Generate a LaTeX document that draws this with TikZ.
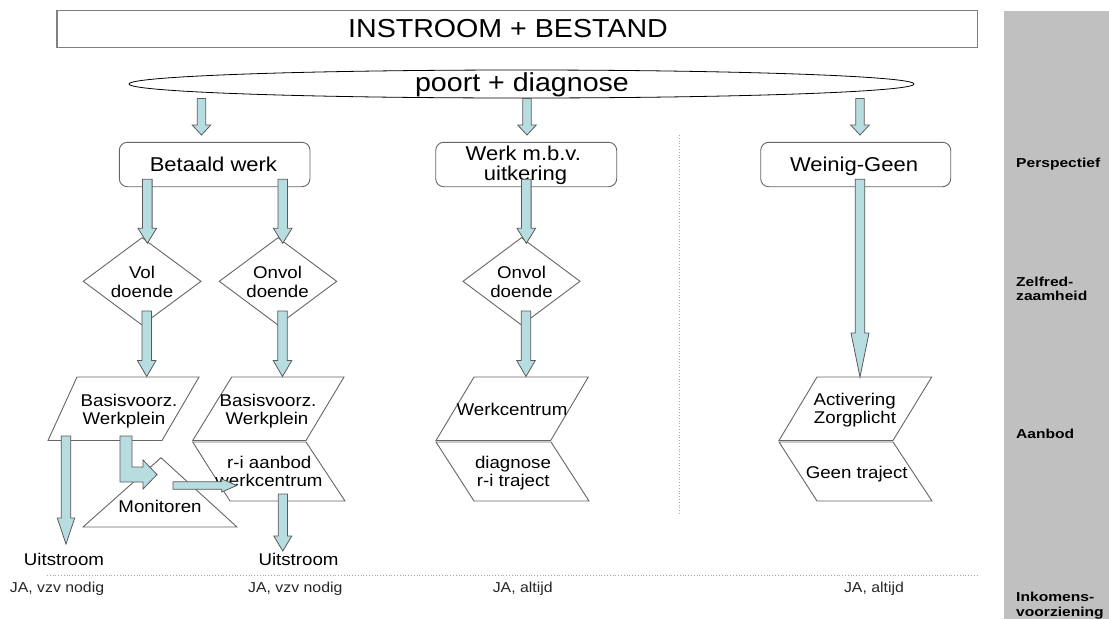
\documentclass[tikz,border=0pt]{standalone}
\usepackage{fontspec}
\setmainfont{Liberation Sans}[FakeStretch=1.1]
\newfontfamily\bandfont{Liberation Sans}[FakeStretch=1.2]
\usetikzlibrary{calc}
\definecolor{arrowfill}{HTML}{B7DDE0}
\definecolor{arrowline}{HTML}{5A5A5A}
\definecolor{bandfill}{HTML}{C0C0C0}
\definecolor{linegray}{HTML}{666666}
\tikzset{
  big/.style={font=\fontsize{26}{30}\selectfont, inner sep=0pt, anchor=base},
  boxtxt/.style={font=\fontsize{20}{24}\selectfont, inner sep=0pt, anchor=base},
  mid/.style={font=\fontsize{17}{20}\selectfont, inner sep=0pt, anchor=base},
  small/.style={font=\fontsize{14.4}{17}\selectfont, inner sep=0pt, anchor=base, text=black!85},
  bandtxt/.style={font=\bandfont\bfseries\fontsize{13}{15}\selectfont, inner sep=0pt, anchor=base west},
  shapeline/.style={draw=linegray, line width=0.9pt, fill=white},
  blockarrow/.style={draw=arrowline, fill=arrowfill, line width=0.8pt, line join=miter},
  sepline/.style={draw=gray!70, dotted, line width=0.8pt}
}
% #1 start, #2 tip, #3 shaft half width, #4 head half width, #5 head length
\newcommand{\blockarr}[5]{%
  \path ($(#2)!#5!(#1)$) coordinate (bah);
  \draw[blockarrow] ($(#1)!#3!90:(#2)$) -- ($(bah)!#3!90:(#2)$) -- ($(bah)!#4!90:(#2)$) -- (#2)
    -- ($(bah)!#4!-90:(#2)$) -- ($(bah)!#3!-90:(#2)$) -- ($(#1)!#3!-90:(#2)$) -- cycle;}
\begin{document}
\begin{tikzpicture}[x=1pt,y=-1pt]
\useasboundingbox (0,0) rectangle (1109,619);
% side band
\fill[bandfill] (1004,11) rectangle (1109,619);
% title box
\draw[line width=1.2pt, draw=gray] (57,10.7) rectangle (977.5,47.3);
\node[big] (title) at (508,37.3) {INSTROOM + BESTAND};
% ellipse
\draw[line width=0.8pt, fill=white] (521.5,84) ellipse [x radius=392.5, y radius=14];
\node[big] (poort) at (522,91.7) {poort + diagnose};
% separators
\draw[sepline] (679.5,135) -- (679.5,515);
\draw[sepline] (47,575) -- (978,575);
% perspective boxes
\draw[shapeline, rounded corners=8pt] (119.3,142.3) rectangle (310,186.7);
\draw[shapeline, rounded corners=8pt] (435.7,142.3) rectangle (616.7,186.7);
\draw[shapeline, rounded corners=8pt] (760.7,142.3) rectangle (950.7,186.7);
\node[boxtxt] (betaald) at (213.4,171) {Betaald werk};
\node[boxtxt] (werk1) at (523.3,160) {Werk m.b.v.};
\node[boxtxt] (werk2) at (525.5,180.5) {uitkering};
\node[boxtxt] (weinig) at (854,171) {Weinig-Geen};
% diamonds
\draw[shapeline] (142,237.7) -- (201,281.3) -- (142,325) -- (83.3,281.3) -- cycle;
\draw[shapeline] (278,237.7) -- (336.7,281.3) -- (278,325) -- (219.3,281.3) -- cycle;
\draw[shapeline] (521.5,237.7) -- (580,281.3) -- (521.5,325) -- (463,281.3) -- cycle;
\node[mid] (vol1) at (142,278.7) {Vol};
\node[mid] (vol2) at (142,297) {doende};
\node[mid] (onvolA1) at (277.6,278.7) {Onvol};
\node[mid] (onvolA2) at (277.6,297) {doende};
\node[mid] (onvolB1) at (521.5,278.7) {Onvol};
\node[mid] (onvolB2) at (521.5,297) {doende};
% offer shapes
\draw[shapeline] (77,377) -- (199,377) -- (162,440.5) -- (48,440.5) -- cycle;
\draw[shapeline] (231.7,377) -- (344,377) -- (306,440.5) -- (192.7,440.5) -- cycle;
\draw[shapeline] (192.7,442) -- (306,442) -- (345,501) -- (230,501) -- cycle;
\draw[shapeline] (474,377) -- (588.3,377) -- (550.7,440.5) -- (436,440.5) -- cycle;
\draw[shapeline] (436,442) -- (551,442) -- (589,501) -- (474,501) -- cycle;
\draw[shapeline] (817,377) -- (931.7,377) -- (893,440.5) -- (779,440.5) -- cycle;
\draw[shapeline] (779,442) -- (893,442) -- (932,501) -- (817,501) -- cycle;
\draw[shapeline] (161,457.7) -- (237,527) -- (83,527) -- cycle;
\node[mid] (basisL1) at (129,406) {Basisvoorz.};
\node[mid] (basisL2) at (124,424) {Werkplein};
\node[mid] (basisR1) at (268,406) {Basisvoorz.};
\node[mid] (basisR2) at (267,424) {Werkplein};
\node[mid] (ri1) at (269.3,468.3) {r-i aanbod};
\node[mid] (ri2) at (269,486.7) {werkcentrum};
\node[mid] (monitor) at (160,512.7) {Monitoren};
\node[mid] (wc) at (512,415) {Werkcentrum};
\node[mid] (diag1) at (513,468.3) {diagnose};
\node[mid] (diag2) at (513.3,486.7) {r-i traject};
\node[mid] (act1) at (854.7,405.7) {Activering};
\node[mid] (act2) at (855,423.3) {Zorgplicht};
\node[mid] (geen) at (856.7,478) {Geen traject};
\node[mid] (uitL) at (64,565) {Uitstroom};
\node[mid] (uitR) at (298.5,565) {Uitstroom};
% income labels
\node[small] (ja1) at (57,592.3) {JA, vzv nodig};
\node[small] (ja2) at (295.3,592.3) {JA, vzv nodig};
\node[small] (ja3) at (522.7,592.3) {JA, altijd};
\node[small] (ja4) at (874,592.3) {JA, altijd};
% band labels
\node[bandtxt] (persp) at (1016,167) {Perspectief};
\node[bandtxt] (zelf1) at (1016,286.7) {Zelfred-};
\node[bandtxt] (zelf2) at (1016,300) {zaamheid};
\node[bandtxt] (aanbod) at (1016,438.3) {Aanbod};
\node[bandtxt] (ink1) at (1016,601.7) {Inkomens-};
\node[bandtxt] (ink2) at (1016,616) {voorziening};
% arrow coordinates
\coordinate (p1s) at (201.5,98.5);  \coordinate (p1t) at (201.5,135);
\coordinate (p2s) at (527,98.5);    \coordinate (p2t) at (527,135);
\coordinate (p3s) at (860,98.5);    \coordinate (p3t) at (860,135);
\coordinate (b1s) at (147.3,179.3); \coordinate (b1t) at (147.3,243.3);
\coordinate (b2s) at (282.7,179.3); \coordinate (b2t) at (282.7,243.3);
\coordinate (w1s) at (526.3,179.3); \coordinate (w1t) at (526.3,243.3);
\coordinate (d1s) at (146.7,311);   \coordinate (d1t) at (146.7,376.5);
\coordinate (d2s) at (282.5,311);   \coordinate (d2t) at (282.5,376.5);
\coordinate (d3s) at (526,311);     \coordinate (d3t) at (526,376.5);
\coordinate (g1s) at (860,179.3);   \coordinate (g1t) at (860,377);
\coordinate (u1s) at (66,436);      \coordinate (u1t) at (66,544);
\coordinate (m1s) at (173,485.5);   \coordinate (m1t) at (236.7,485.5);
\coordinate (u2s) at (282.8,494);   \coordinate (u2t) at (282.8,551);
\blockarr{p1s}{p1t}{4.2pt}{9.3pt}{10pt}
\blockarr{p2s}{p2t}{4.2pt}{9.3pt}{10pt}
\blockarr{p3s}{p3t}{4.2pt}{9.3pt}{10pt}
\blockarr{b1s}{b1t}{4.8pt}{9.3pt}{15pt}
\blockarr{b2s}{b2t}{4.8pt}{9.3pt}{15pt}
\blockarr{w1s}{w1t}{4.8pt}{9.3pt}{15pt}
\blockarr{d1s}{d1t}{4.8pt}{9.3pt}{16pt}
\blockarr{d2s}{d2t}{4.8pt}{9.3pt}{16pt}
\blockarr{d3s}{d3t}{4.8pt}{9.3pt}{16pt}
\blockarr{g1s}{g1t}{4.8pt}{9pt}{44pt}
\blockarr{u1s}{u1t}{4.8pt}{8.7pt}{26pt}
\blockarr{m1s}{m1t}{3.8pt}{6.5pt}{15pt}
\blockarr{u2s}{u2t}{4.6pt}{9pt}{15pt}
% bent arrow Basisvoorz. -> Monitoren
\coordinate (bentS) at (126,436);
\coordinate (bentT) at (157,474.5);
\draw[blockarrow] ($(bentS)+(-6,0)$) -- ($(bentS)+(-6,46)$) -- ($(bentT)+(-14,7.5)$) -- ($(bentT)+(-14,14.5)$)
  -- (bentT) -- ($(bentT)+(-14,-14.5)$) -- ($(bentT)+(-14,-7.5)$) -- ($(bentS)+(6,31)$) -- ($(bentS)+(6,0)$) -- cycle;
\end{tikzpicture}
\end{document}
